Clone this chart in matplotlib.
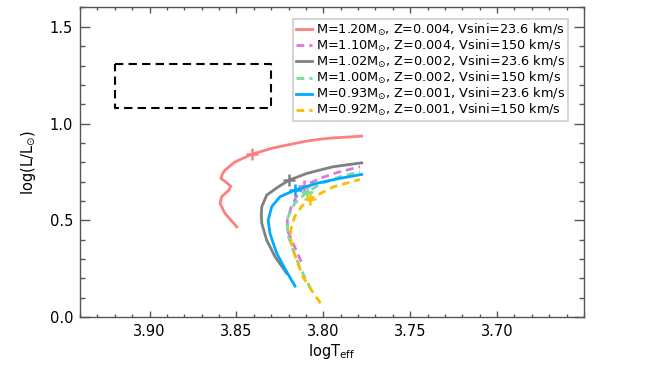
import matplotlib.pyplot as plt

# evolutionary tracks (logTeff, log L/Lsun)
red_x = [3.8498, 3.8566, 3.8594, 3.8585, 3.8543, 3.8533, 3.8556, 3.8589, 3.8580, 3.8566, 3.8508,
         3.8412, 3.8297, 3.8230, 3.8105, 3.8020, 3.7944, 3.7847, 3.7779]
red_y = [0.466, 0.536, 0.587, 0.622, 0.656, 0.677, 0.694, 0.717, 0.740, 0.759, 0.802,
         0.841, 0.872, 0.885, 0.908, 0.919, 0.926, 0.931, 0.935]

mag_x = [3.8127, 3.8174, 3.8207, 3.8207, 3.8184, 3.8155, 3.8111, 3.8019, 3.7923, 3.7789]
mag_y = [0.286, 0.381, 0.449, 0.501, 0.570, 0.622, 0.677, 0.717, 0.746, 0.777]

gray_x = [3.8211, 3.8278, 3.8326, 3.8354, 3.8357, 3.8354, 3.8326, 3.8259, 3.8196, 3.8096, 3.8010, 3.7942, 3.7779]
gray_y = [0.226, 0.312, 0.398, 0.484, 0.530, 0.570, 0.630, 0.673, 0.708, 0.742, 0.762, 0.777, 0.797]

green_x = [3.8069, 3.8098, 3.8136, 3.8174, 3.8207, 3.8203, 3.8165, 3.8094, 3.8009, 3.7904, 3.7789]
green_y = [0.140, 0.191, 0.260, 0.346, 0.432, 0.518, 0.587, 0.646, 0.691, 0.725, 0.751]

blue_x = [3.8163, 3.8211, 3.8268, 3.8307, 3.8317, 3.8297, 3.8249, 3.8163, 3.8038, 3.7904, 3.7779]
blue_y = [0.160, 0.234, 0.329, 0.432, 0.501, 0.570, 0.622, 0.656, 0.691, 0.717, 0.737]

orange_x = [3.8016, 3.8069, 3.8117, 3.8155, 3.8184, 3.8188, 3.8165, 3.8127, 3.8078, 3.7942, 3.7789]
orange_y = [0.072, 0.140, 0.208, 0.295, 0.381, 0.449, 0.518, 0.570, 0.610, 0.673, 0.711]

# '+' markers on each track
cross_x = [3.8412, 3.8111, 3.8196, 3.8094, 3.8163, 3.8078]
cross_y = [0.841, 0.677, 0.708, 0.646, 0.656, 0.610]

labels = [r"M=1.20M$_{\odot}$, Z=0.004, Vsini=23.6 km/s",
          r"M=1.10M$_{\odot}$, Z=0.004, Vsini=150 km/s",
          r"M=1.02M$_{\odot}$, Z=0.002, Vsini=23.6 km/s",
          r"M=1.00M$_{\odot}$, Z=0.002, Vsini=150 km/s",
          r"M=0.93M$_{\odot}$, Z=0.001, Vsini=23.6 km/s",
          r"M=0.92M$_{\odot}$, Z=0.001, Vsini=150 km/s"]
colors = ['#ff7f7f', '#dd77dd', '#808080', '#77dd99', '#00aaff', '#ffbb00']
dashed = [False, True, False, True, False, True]

box_x = [3.92, 3.83, 3.83, 3.92, 3.92]
box_y = [1.31, 1.31, 1.08, 1.08, 1.31]

plt.rcParams['font.family'] = 'DejaVu Sans'
plt.rcParams['mathtext.fontset'] = 'dejavusans'

fig = plt.figure(figsize=(6.64, 3.73), dpi=100)
ax = fig.add_axes([0.1205, 0.150, 0.759, 0.830])

tracks = [(red_x, red_y), (mag_x, mag_y), (gray_x, gray_y),
          (green_x, green_y), (blue_x, blue_y), (orange_x, orange_y)]
for i, (tx, ty) in enumerate(tracks):
    if dashed[i]:
        ax.plot(tx, ty, color=colors[i], lw=2.0, dashes=(2.8, 1.8), label=labels[i])
    else:
        ax.plot(tx, ty, color=colors[i], lw=2.0, label=labels[i])
    ax.plot(cross_x[i], cross_y[i], marker='+', color=colors[i], ms=8.5, mew=1.8)

ax.plot(box_x, box_y, color='black', lw=1.5, dashes=(4, 2.5))

ax.set_xlim(3.94, 3.65)
ax.set_ylim(0.0, 1.6)
ax.set_xticks([3.90, 3.85, 3.80, 3.75, 3.70])
ax.set_xticklabels(["3.90", "3.85", "3.80", "3.75", "3.70"])
ax.set_xticks([3.94 - 0.01 * i for i in range(30)], minor=True)
ax.set_yticks([0.0, 0.5, 1.0, 1.5])
ax.set_yticklabels(["0.0", "0.5", "1.0", "1.5"])
ax.set_yticks([0.1 * i for i in range(17)], minor=True)

ax.tick_params(axis='both', which='both', direction='in', top=True, right=True,
               labelsize=10.5, colors='#555555', labelcolor='black')
ax.tick_params(axis='x', which='major', length=4.5, width=1, pad=5)
ax.tick_params(axis='x', which='minor', length=2.3, width=1)
ax.tick_params(axis='y', which='major', length=7.2, width=1, pad=5)
ax.tick_params(axis='y', which='minor', length=3.6, width=1)
for sp in ax.spines.values():
    sp.set_color('#555555')
    sp.set_linewidth(1)

ax.set_xlabel(r"logT$_{\rm eff}$", fontsize=10.5, labelpad=2)
ax.set_ylabel(r"log(L/L$_{\odot}$)", fontsize=10.5, labelpad=8)

leg = ax.legend(loc='upper right', bbox_to_anchor=(0.968, 0.962), borderaxespad=0,
                fontsize=9.3, handlelength=1.25, handletextpad=0.3, labelspacing=0.0,
                borderpad=0.2, frameon=True, fancybox=False)
leg.get_frame().set_edgecolor('#cccccc')
leg.get_frame().set_linewidth(1.5)

fig.savefig('out.png', dpi=100)
